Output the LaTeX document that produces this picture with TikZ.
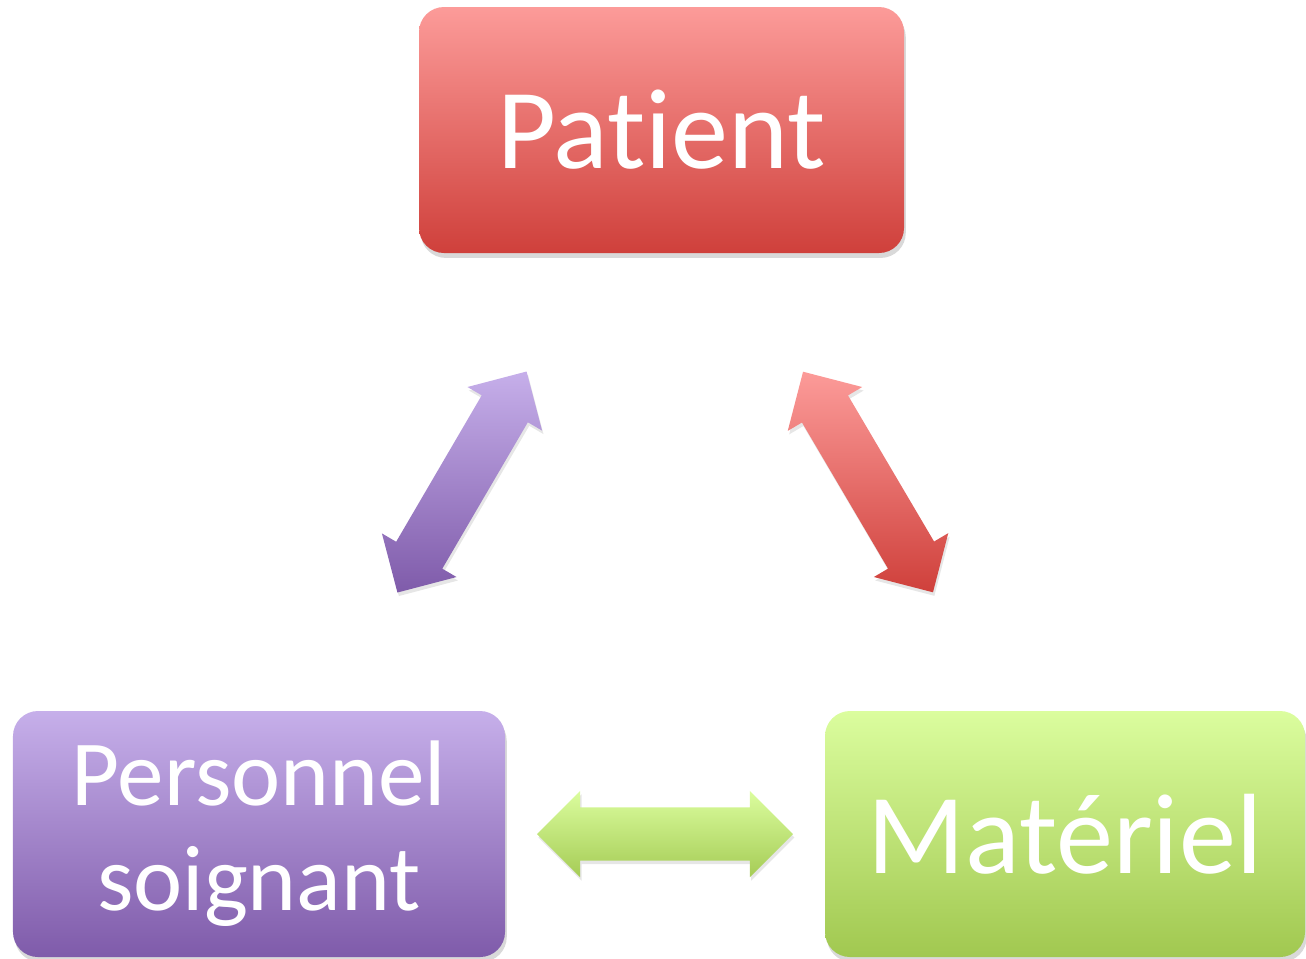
\documentclass[tikz,border=0pt]{standalone}
\usepackage{fontspec}
\setmainfont{Carlito}[Ligatures = NoCommon]
\usetikzlibrary{calc, shapes.arrows, shadows}

\definecolor{patientTop}{RGB}{252,155,153}
\definecolor{patientMid}{RGB}{238,130,127}
\definecolor{patientBot}{RGB}{207,64,59}
\definecolor{persTop}{RGB}{198,175,234}
\definecolor{persMid}{RGB}{166,139,205}
\definecolor{persBot}{RGB}{127,91,170}
\definecolor{matTop}{RGB}{219,253,158}
\definecolor{matMid}{RGB}{204,237,135}
\definecolor{matBot}{RGB}{161,200,80}

\tikzset{
	diagpicture/.style = {
		linkarrow/.style = {
			double arrow,
			double arrow head extend = 1.65mm,
			double arrow tip angle = 90,
			minimum height = 25.6mm,
			inner xsep = 0pt,
			inner ysep = 2.6mm,
			drop shadow = {shadow xshift = 0.4pt, shadow yshift = -1pt, opacity = 0.2}
		}
	},
	boxnode/.style = {
		rectangle,
		rounded corners = 2.5mm,
		inner sep = 0pt,
		align = center,
		text = white,
		minimum height = 24.6mm,
		drop shadow = {shadow xshift = 0.5pt, shadow yshift = -1.4pt, opacity = 0.3}
	},
	patient-box/.style = {
		top color = patientTop,
		middle color = patientMid,
		bottom color = patientBot,
		font = \fontsize{32.5}{38}\selectfont
	},
	pers-box/.style = {
		top color = persTop,
		middle color = persMid,
		bottom color = persBot,
		font = \fontsize{26.5}{29.9}\selectfont
	},
	mat-box/.style = {
		top color = matTop,
		middle color = matMid,
		bottom color = matBot,
		font = \fontsize{32.5}{38}\selectfont
	}
}

\begin{document}
\begin{tikzpicture}[diagpicture]
	\useasboundingbox (0,0) rectangle (13.06,-9.58);

	\node[boxnode, patient-box, minimum width = 48.5mm] (patient) at (6.615,-1.30) {Patient};
	\node[boxnode, pers-box, minimum width = 49.2mm] (personnel) at (2.59,-8.34) {Personnel\\soignant};
	\node[boxnode, mat-box, minimum width = 48.0mm] (materiel) at (10.65,-8.34) {Matériel};

	% arrows between the boxes
	\node[linkarrow, rotate = 59.7, top color = persTop, bottom color = persBot]
		(pers-pat) at ($(personnel.north east)!0.5!(patient.south west)$) {};
	\node[linkarrow, rotate = -59.5, top color = patientTop, bottom color = patientBot]
		(pat-mat) at ($(patient.south east)!0.5!(materiel.north west) + (0.035,0)$) {};
	\node[linkarrow, top color = matTop, bottom color = matBot!90!matMid]
		(pers-mat) at ($(personnel.east)!0.5!(materiel.west)$) {};
\end{tikzpicture}
\end{document}
